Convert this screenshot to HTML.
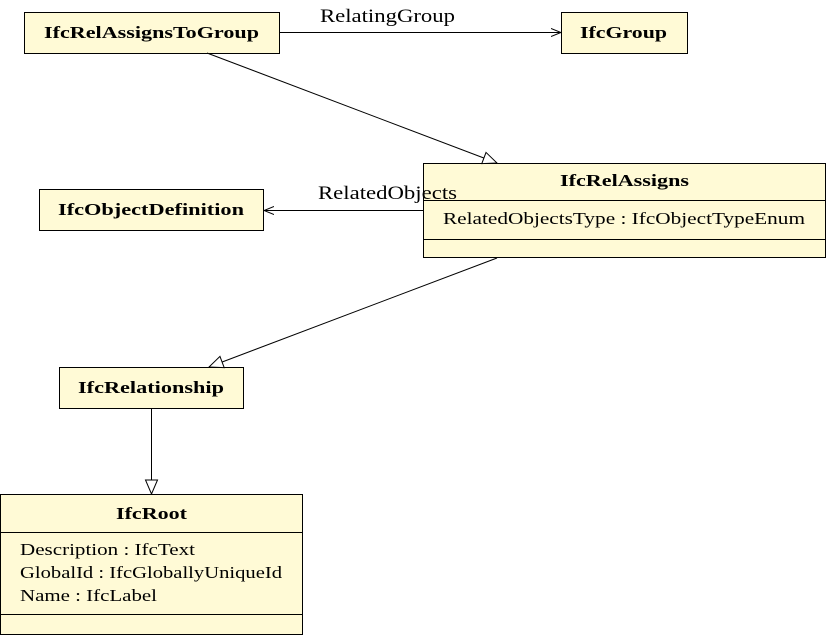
<!DOCTYPE html>
<html><head><meta charset="utf-8"><style>
html,body{margin:0;padding:0;background:#fff;}
svg{display:block;}
text{font-family:"Liberation Serif",serif;fill:#000;}
.b{font-weight:bold;font-size:17px;}
.t{font-size:17px;}
.l{font-size:19px;}
</style></head><body>
<svg width="826" height="635" viewBox="0 0 826 635">
<defs>
<marker id="open" viewBox="0 0 10 10" refX="10" refY="5" markerWidth="10" markerHeight="10" markerUnits="userSpaceOnUse" orient="auto"><path d="M0,1 L10,5 L0,9" fill="none" stroke="#000" stroke-width="1"/></marker>
<marker id="tri" viewBox="0 0 16 14" refX="15" refY="7" markerWidth="16" markerHeight="14" markerUnits="userSpaceOnUse" orient="auto"><path d="M1,1 L15,7 L1,13 Z" fill="#fff" stroke="#000" stroke-width="1"/></marker>
</defs>
<g fill="#fffad6" stroke="#000" stroke-width="1">
<rect x="24.5" y="12.5" width="255" height="41"/>
<rect x="561.5" y="12.5" width="126" height="41"/>
<rect x="423.5" y="163.5" width="402" height="94"/>
<rect x="39.5" y="189.5" width="224" height="41"/>
<rect x="59.5" y="367.5" width="184" height="41"/>
<rect x="0.5" y="494.5" width="302" height="140"/>
</g>
<g stroke="#000" stroke-width="1" fill="none">
<line x1="423" y1="200.5" x2="826" y2="200.5"/>
<line x1="423" y1="239.5" x2="826" y2="239.5"/>
<line x1="0" y1="532.5" x2="303" y2="532.5"/>
<line x1="0" y1="614.5" x2="303" y2="614.5"/>
<line x1="280" y1="32.5" x2="561" y2="32.5" marker-end="url(#open)"/>
<line x1="423" y1="210.5" x2="264" y2="210.5" marker-end="url(#open)"/>
<line x1="207" y1="53" x2="497" y2="163" marker-end="url(#tri)"/>
<line x1="497" y1="258" x2="209" y2="367" marker-end="url(#tri)"/>
<line x1="151.5" y1="408" x2="151.5" y2="494" marker-end="url(#tri)"/>
</g>
<text class="b" x="44" y="38" textLength="215" lengthAdjust="spacingAndGlyphs">IfcRelAssignsToGroup</text>
<text class="b" x="580" y="38" textLength="87" lengthAdjust="spacingAndGlyphs">IfcGroup</text>
<text class="b" x="560" y="186" textLength="129" lengthAdjust="spacingAndGlyphs">IfcRelAssigns</text>
<text class="t" x="443" y="224" textLength="362" lengthAdjust="spacingAndGlyphs">RelatedObjectsType : IfcObjectTypeEnum</text>
<text class="b" x="58" y="215" textLength="186" lengthAdjust="spacingAndGlyphs">IfcObjectDefinition</text>
<text class="b" x="78" y="393" textLength="146" lengthAdjust="spacingAndGlyphs">IfcRelationship</text>
<text class="b" x="116" y="519" textLength="71" lengthAdjust="spacingAndGlyphs">IfcRoot</text>
<text class="t" x="20" y="555" textLength="175" lengthAdjust="spacingAndGlyphs">Description : IfcText</text>
<text class="t" x="20" y="578" textLength="262" lengthAdjust="spacingAndGlyphs">GlobalId : IfcGloballyUniqueId</text>
<text class="t" x="20" y="601" textLength="137" lengthAdjust="spacingAndGlyphs">Name : IfcLabel</text>
<text class="l" x="320" y="22" textLength="135" lengthAdjust="spacingAndGlyphs">RelatingGroup</text>
<text class="l" x="318" y="199" textLength="139" lengthAdjust="spacingAndGlyphs">RelatedObjects</text>
</svg>
</body></html>
